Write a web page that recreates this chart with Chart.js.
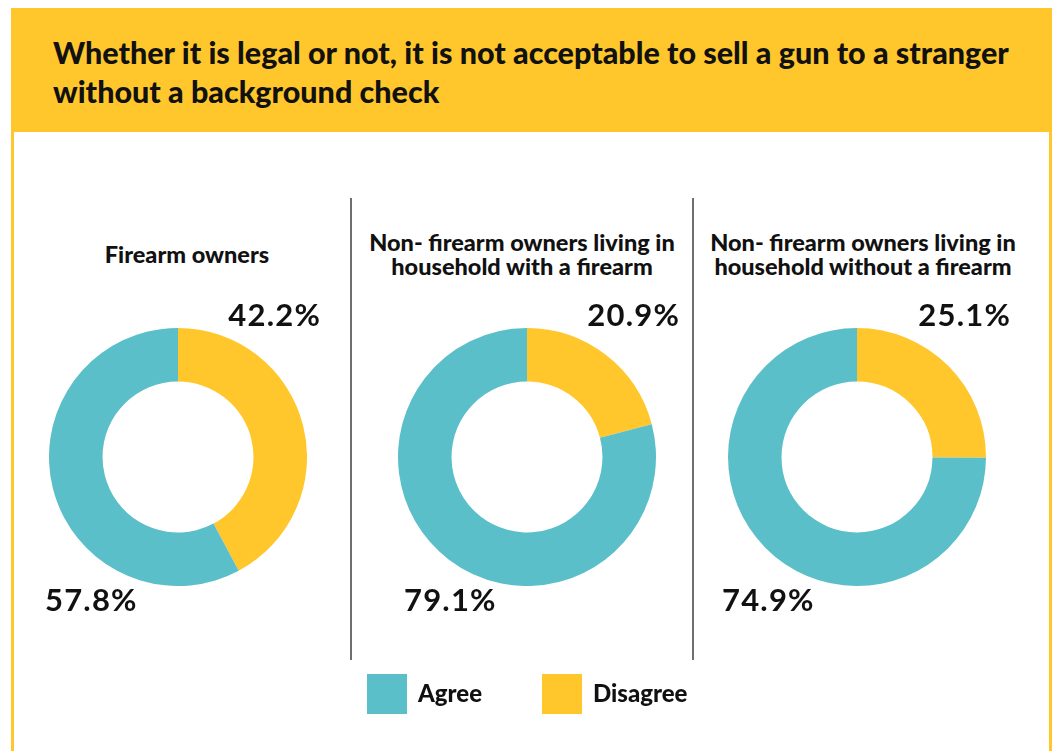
<!DOCTYPE html>
<html lang="en">
  <head>
    <meta charset="UTF-8" />
    <title>Background check survey</title>
    <script src="https://cdn.jsdelivr.net/npm/chart.js@4"></script>
    <style>
      body { margin: 0; background: #fff; font-family: Lato, "Open Sans", sans-serif; color: #111; }
      #frame { position: relative; width: 1055px; height: 751px; overflow: hidden; }
      .header {
        position: absolute; left: 11px; top: 8px; width: 1041px; height: 124px;
        background: #ffc72c;
      }
      .header h1 {
        margin: 0; position: absolute; left: 42px; top: 25px; width: 990px;
        font-size: 30.5px; font-weight: 900; line-height: 39px;
      }
      .box {
        position: absolute; left: 11px; top: 132px; width: 1035px; height: 640px;
        border-left: 3px solid #ffc72c; border-right: 3px solid #ffc72c;
      }
      .sep { position: absolute; top: 198px; width: 2px; height: 462px; background: #6f6f6f; }
      .sub {
        position: absolute; width: 340px; text-align: center;
        font-size: 23.5px; font-weight: 900; line-height: 24px;
      }
      .pct { position: absolute; font-size: 31px; font-weight: 700; line-height: 30px; letter-spacing: 1.2px; }
      canvas { position: absolute; }
      .leg { position: absolute; top: 674px; height: 40px; display: flex; align-items: center; font-size: 24px; font-weight: 900; }
      .leg span.sw { display: inline-block; width: 40px; height: 40px; margin-right: 11px; }
      .leg .t { position: relative; top: -2px; }
    </style>
  </head>
  <body>
    <div id="frame">
      <div class="header">
        <h1>Whether it is legal or not, it is not acceptable to sell a gun to a stranger without a background check</h1>
      </div>
      <div class="box"></div>
      <div class="sep" style="left: 350px"></div>
      <div class="sep" style="left: 692px"></div>
    </div>

    <script>
      const groups = [
        ["Firearm owners"],
        ["Non- firearm owners living in", "household with a firearm"],
        ["Non- firearm owners living in", "household without a firearm"]
      ];
      const seriesNames = ["Agree", "Disagree"];
      const agree = [57.8, 79.1, 74.9];
      const disagree = [42.2, 20.9, 25.1];
      const colors = { Agree: "#5bbfca", Disagree: "#ffc72c" };

      // where each panel sits on the page
      const panels = [
        { cx: 178, cy: 457, subX: 17, subY: 242, disRight: 321, agrLeft: 45 },
        { cx: 527, cy: 457, subX: 352, subY: 230, disRight: 680, agrLeft: 404 },
        { cx: 857, cy: 457, subX: 693, subY: 230, disRight: 1011, agrLeft: 722 }
      ];
      const R = 129;

      const frame = document.getElementById("frame");

      panels.forEach((p, i) => {
        const sub = document.createElement("div");
        sub.className = "sub";
        sub.style.left = p.subX + "px";
        sub.style.top = p.subY + "px";
        sub.innerHTML = groups[i].join("<br>");
        frame.appendChild(sub);

        const canvas = document.createElement("canvas");
        canvas.width = R * 2;
        canvas.height = R * 2;
        canvas.style.left = p.cx - R + "px";
        canvas.style.top = p.cy - R + "px";
        frame.appendChild(canvas);

        new Chart(canvas.getContext("2d"), {
          type: "doughnut",
          data: {
            labels: ["Disagree", "Agree"],
            datasets: [
              {
                data: [disagree[i], agree[i]],
                backgroundColor: [colors.Disagree, colors.Agree],
                borderWidth: 0
              }
            ]
          },
          options: {
            responsive: false,
            animation: false,
            devicePixelRatio: 1,
            cutout: "58.5%",
            layout: { padding: 0 },
            plugins: { legend: { display: false }, tooltip: { enabled: false } }
          }
        });

        const d = document.createElement("div");
        d.className = "pct";
        d.textContent = disagree[i].toFixed(1) + "%";
        d.style.right = 1055 - p.disRight + "px";
        d.style.top = "299px";
        frame.appendChild(d);

        const a = document.createElement("div");
        a.className = "pct";
        a.textContent = agree[i].toFixed(1) + "%";
        a.style.left = p.agrLeft + "px";
        a.style.top = "584px";
        frame.appendChild(a);
      });

      // legend
      const legX = [367, 542];
      seriesNames.forEach((name, i) => {
        const l = document.createElement("div");
        l.className = "leg";
        l.style.left = legX[i] + "px";
        l.innerHTML = `<span class="sw" style="background:${colors[name]}"></span><span class="t">${name}</span>`;
        frame.appendChild(l);
      });
    </script>
  </body>
</html>
